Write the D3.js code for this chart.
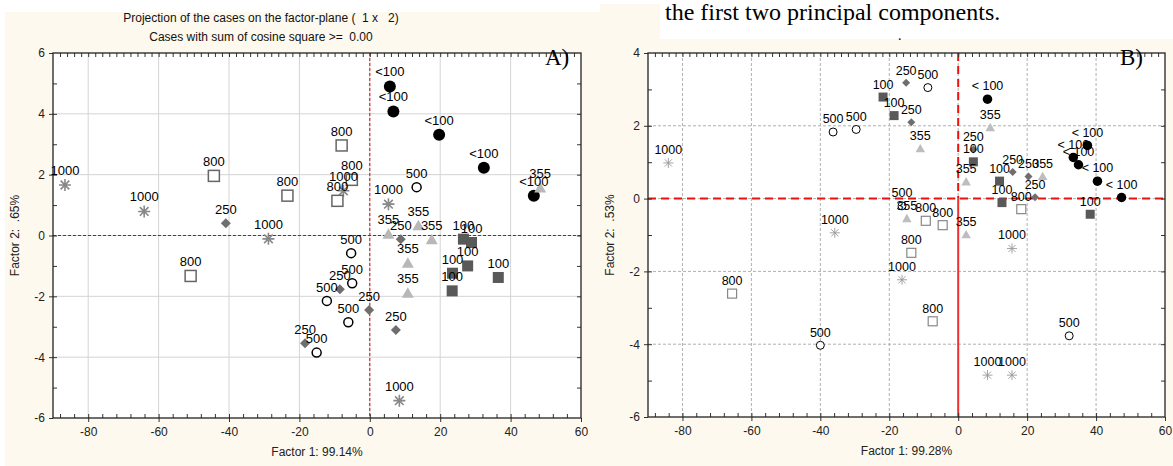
<!DOCTYPE html>
<html>
<head>
<meta charset="utf-8">
<style>
  html, body { margin: 0; background: #fff; }
  svg { display: block; font-family: Arial, "Liberation Sans", sans-serif; }
</style>
<script src="https://d3js.org/d3.v7.min.js"></script>
</head>
<body>
<svg class="chart"></svg>
<script>
const width = 1173;
const height = 466;

// panel A: factor 1 / factor 2 scores per group
const A_lt100 = [[5.7, 4.90], [6.7, 4.08], [19.7, 3.31], [32.4, 2.23], [46.6, 1.31]];
const A_100 = [[26.6, -0.12], [28.9, -0.23], [27.8, -1.00], [23.5, -1.24], [23.4, -1.82], [36.5, -1.38]];
const A_250 = [[-40.9, 0.40], [8.8, -0.12], [-8.5, -1.77], [-0.2, -2.45], [7.4, -3.11], [-18.4, -3.54]];
const A_355 = [[13.8, 0.32], [5.3, 0.04], [17.6, -0.14], [10.8, -0.91], [10.8, -1.90], [48.4, 1.56]];
const A_500 = [[13.3, 1.59], [-5.3, -0.58], [-5.0, -1.57], [-12.2, -2.15], [-6.1, -2.85], [-15.1, -3.85]];
const A_800 = [[-44.3, 1.96], [-23.4, 1.31], [-8.0, 2.96], [-5.1, 1.83], [-9.2, 1.14], [-50.9, -1.33]];
const A_1000 = [[-86.6, 1.66], [-64.1, 0.79], [-28.8, -0.11], [-7.5, 1.47], [5.3, 1.03], [8.4, -5.43]];

// panel B
const B_lt100 = [[8.5, 2.73], [37.5, 1.46], [33.4, 1.13], [34.9, 0.93], [40.4, 0.48], [47.4, 0.03]];
const B_100 = [[-21.8, 2.79], [-18.6, 2.28], [4.4, 1.01], [12.0, 0.48], [12.7, -0.11], [38.3, -0.43]];
const B_250 = [[-15.1, 3.18], [-13.6, 2.10], [4.4, 1.35], [15.8, 0.73], [20.4, 0.61], [22.3, 0.04]];
const B_355 = [[9.3, 1.95], [-11.0, 1.37], [2.3, 0.46], [24.5, 0.61], [-14.9, -0.55], [2.3, -0.99]];
const B_500 = [[-36.3, 1.83], [-29.6, 1.90], [-8.8, 3.05], [-16.3, -0.20], [32.2, -3.77], [-40.0, -4.03]];
const B_800 = [[18.3, -0.29], [-9.4, -0.61], [-4.5, -0.73], [-13.6, -1.49], [-7.4, -3.37], [-65.6, -2.61]];
const B_1000 = [[-84.1, 0.98], [-35.8, -0.94], [15.6, -1.37], [-16.3, -2.23], [8.5, -4.85], [15.6, -4.85]];

const xTicks = [-80, -60, -40, -20, 0, 20, 40, 60];
const yTicksA = [-6, -4, -2, 0, 2, 4, 6];
const yTicksB = [-6, -4, -2, 0, 2, 4];

const svg = d3.select('svg')
  .attr('width', width)
  .attr('height', height);

// backgrounds
svg.append('rect').attr('x', 5).attr('y', 12).attr('width', 595).attr('height', height - 12).attr('fill', '#fdf9ee');
svg.append('rect').attr('x', 600).attr('y', 4).attr('width', 573).attr('height', height - 4).attr('fill', '#fdf9ee');
svg.append('rect').attr('x', 660).attr('y', 0).attr('width', 513).attr('height', 39).attr('fill', '#fff');
svg.append('text').attr('x', 665).attr('y', 20)
  .style('font-family', '"Liberation Serif", "Times New Roman", serif').style('font-size', '24px')
  .text('the first two principal components.');
svg.append('text').attr('x', 898).attr('y', 40)
  .style('font-family', '"Liberation Serif", serif').style('font-size', '14px').text('.');

// marker styles, per panel
const stylesA = {
  lt100: { shape: 'circle', s: 12, fill: '#000', stroke: 'none', sw: 0 },
  g100: { shape: 'square', s: 11, fill: '#595959', stroke: 'none', sw: 0 },
  g250: { shape: 'diamond', s: 10, fill: '#6e6e6e', stroke: 'none', sw: 0 },
  g355: { shape: 'triangle', s: 12, fill: '#b8b8b8', stroke: 'none', sw: 0 },
  g500: { shape: 'circle', s: 10.5, fill: '#fff', stroke: '#000', sw: 1.5 },
  g800: { shape: 'square', s: 11, fill: '#fff', stroke: '#666', sw: 1.5 },
  g1000: { shape: 'asterisk', s: 12, fill: 'none', stroke: '#888', sw: 1.6 }
};
const stylesB = {
  lt100: { shape: 'circle', s: 9.5, fill: '#000', stroke: 'none', sw: 0 },
  g100: { shape: 'square', s: 9, fill: '#595959', stroke: 'none', sw: 0 },
  g250: { shape: 'diamond', s: 8, fill: '#6e6e6e', stroke: 'none', sw: 0 },
  g355: { shape: 'triangle', s: 9.5, fill: '#bdbdbd', stroke: 'none', sw: 0 },
  g500: { shape: 'circle', s: 9, fill: '#fff', stroke: '#000', sw: 1 },
  g800: { shape: 'square', s: 9, fill: '#fff', stroke: '#888', sw: 1.2 },
  g1000: { shape: 'asterisk', s: 10, fill: 'none', stroke: '#999', sw: 0.9 }
};

function marker(g, st, cx, cy) {
  const h = st.s / 2;
  let el;
  if (st.shape === 'circle') {
    el = g.append('circle').attr('cx', cx).attr('cy', cy).attr('r', h - st.sw / 2);
  } else if (st.shape === 'square') {
    el = g.append('rect').attr('x', cx - h).attr('y', cy - h).attr('width', st.s).attr('height', st.s);
  } else if (st.shape === 'diamond') {
    el = g.append('path').attr('d', `M${cx},${cy - h}L${cx + h},${cy}L${cx},${cy + h}L${cx - h},${cy}Z`);
  } else if (st.shape === 'triangle') {
    el = g.append('path').attr('d', `M${cx},${cy - h}L${cx + h},${cy + h * 0.75}L${cx - h},${cy + h * 0.75}Z`);
  } else {
    const d = h * 0.72;
    el = g.append('path').attr('d',
      `M${cx},${cy - h}V${cy + h}M${cx - h},${cy}H${cx + h}` +
      `M${cx - d},${cy - d}L${cx + d},${cy + d}M${cx - d},${cy + d}L${cx + d},${cy - d}`);
  }
  el.attr('fill', st.fill).attr('stroke', st.stroke).attr('stroke-width', st.sw);
}

function panel(cfg) {
  const x = d3.scaleLinear().domain([-90, 60]).range([cfg.left, cfg.right]);
  const y = d3.scaleLinear().domain(cfg.yDomain).range([cfg.bottom, cfg.top]);
  const g = svg.append('g');

  g.append('rect')
    .attr('x', cfg.left).attr('y', cfg.top)
    .attr('width', cfg.right - cfg.left).attr('height', cfg.bottom - cfg.top)
    .attr('fill', '#fff');

  // grid
  const grid = g.append('g')
    .attr('stroke', cfg.dashedGrid ? '#b0b0b0' : '#d4d4d4')
    .attr('stroke-width', 1)
    .attr('stroke-dasharray', cfg.dashedGrid ? '3,2' : null);
  grid.selectAll('.vx').data(xTicks.slice(0, -1)).join('line')
    .attr('x1', (d) => x(d)).attr('x2', (d) => x(d))
    .attr('y1', cfg.top).attr('y2', cfg.bottom);
  grid.selectAll('.hy').data(cfg.yTicks.slice(1, -1)).join('line')
    .attr('y1', (d) => y(d)).attr('y2', (d) => y(d))
    .attr('x1', cfg.left).attr('x2', cfg.right);

  // zero lines
  if (cfg.dashedGrid) {
    g.append('line').attr('x1', cfg.left).attr('x2', cfg.right).attr('y1', y(0)).attr('y2', y(0))
      .attr('stroke', '#f01010').attr('stroke-width', 2).attr('stroke-dasharray', '8,5');
    g.append('line').attr('x1', x(0)).attr('x2', x(0)).attr('y1', cfg.top).attr('y2', y(0))
      .attr('stroke', '#f01010').attr('stroke-width', 2).attr('stroke-dasharray', '8,5');
    g.append('line').attr('x1', x(0)).attr('x2', x(0)).attr('y1', y(0)).attr('y2', cfg.bottom)
      .attr('stroke', '#f03030').attr('stroke-width', 2);
  } else {
    g.append('line').attr('x1', cfg.left).attr('x2', cfg.right).attr('y1', y(0)).attr('y2', y(0))
      .attr('stroke', '#e00000').attr('stroke-width', 1).attr('stroke-dasharray', '3,2');
    g.append('line').attr('x1', x(0)).attr('x2', x(0)).attr('y1', cfg.top).attr('y2', cfg.bottom)
      .attr('stroke', '#e00000').attr('stroke-width', 1).attr('stroke-dasharray', '3,2');
  }

  // axes
  const fmt = (d) => String(d);
  const tickStyle = (sel) => {
    sel.select('.domain').remove();
    sel.selectAll('line').attr('stroke', '#333');
    sel.selectAll('text').attr('fill', '#222').style('font-size', '12px').style('font-family', 'Arial, "Liberation Sans", sans-serif');
  };
  g.append('g').attr('transform', `translate(0,${cfg.bottom})`)
    .call(d3.axisBottom(x).tickValues(xTicks).tickFormat(fmt).tickSize(4).tickPadding(5)).call(tickStyle);
  g.append('g').attr('transform', `translate(0,${cfg.bottom})`)
    .call(d3.axisBottom(x).tickValues(d3.range(-88, 60, 4)).tickSize(-4).tickFormat('')).call(tickStyle);
  g.append('g').attr('transform', `translate(0,${cfg.top})`)
    .call(d3.axisTop(x).tickValues(d3.range(-88, 60, 2)).tickSize(-4).tickFormat('')).call(tickStyle);
  g.append('g').attr('transform', `translate(${cfg.left},0)`)
    .call(d3.axisLeft(y).tickValues(cfg.yTicks).tickFormat(fmt).tickSize(4).tickPadding(4)).call(tickStyle);
  g.append('g').attr('transform', `translate(${cfg.left},0)`)
    .call(d3.axisLeft(y).tickValues(d3.range(cfg.yDomain[0] + 1, cfg.yDomain[1], 1)).tickSize(-4).tickFormat('')).call(tickStyle);
  g.append('g').attr('transform', `translate(${cfg.right},0)`)
    .call(d3.axisRight(y).tickValues(d3.range(cfg.yDomain[0] + 1, cfg.yDomain[1], 1)).tickSize(-4).tickFormat('')).call(tickStyle);

  g.append('rect')
    .attr('x', cfg.left).attr('y', cfg.top)
    .attr('width', cfg.right - cfg.left).attr('height', cfg.bottom - cfg.top)
    .attr('fill', 'none').attr('stroke', '#222').attr('stroke-width', 1.3);

  // markers, then labels on top
  const mg = g.append('g');
  cfg.series.forEach(([key, label, pts]) => {
    pts.forEach(([px, py]) => marker(mg, cfg.styles[key], x(px), y(py)));
  });
  const lg = g.append('g')
    .attr('text-anchor', 'middle')
    .style('font-size', cfg.labelSize + 'px')
    .attr('fill', '#000');
  cfg.series.forEach(([key, label, pts]) => {
    const off = cfg.styles[key].s / 2 + cfg.labelGap;
    lg.selectAll(null).data(pts).join('text')
      .attr('x', (d) => x(d[0]))
      .attr('y', (d) => y(d[1]) - off)
      .text(label);
  });

  // axis titles
  g.append('text')
    .attr('x', (cfg.left + cfg.right) / 2).attr('y', cfg.bottom + 38)
    .attr('text-anchor', 'middle').style('font-size', '12px').attr('fill', '#222')
    .text(cfg.xTitle);
  g.append('text')
    .attr('transform', `translate(${cfg.yTitleX},${(cfg.top + cfg.bottom) / 2}) rotate(-90)`)
    .attr('text-anchor', 'middle').style('font-size', '12px').attr('fill', '#222')
    .style('white-space', 'pre')
    .text(cfg.yTitle);

  // panel letter
  g.append('text')
    .attr('x', cfg.letterX).attr('y', 65)
    .style('font-family', '"Liberation Serif", "Times New Roman", serif').style('font-size', '23px')
    .text(cfg.letter);
}

panel({
  left: 53, right: 581, top: 53, bottom: 418,
  yDomain: [-6, 6], yTicks: yTicksA, dashedGrid: false,
  styles: stylesA, labelSize: 13, labelGap: 4,
  xTitle: 'Factor 1: 99.14%', yTitle: 'Factor 2:  .65%', yTitleX: 19,
  letter: 'A)', letterX: 545,
  series: [
    ['lt100', '<100', A_lt100], ['g1000', '1000', A_1000], ['g100', '100', A_100],
    ['g250', '250', A_250], ['g355', '355', A_355], ['g500', '500', A_500], ['g800', '800', A_800]
  ]
});

panel({
  left: 648, right: 1165, top: 53, bottom: 417,
  yDomain: [-6, 4], yTicks: yTicksB, dashedGrid: true,
  styles: stylesB, labelSize: 12.5, labelGap: 4,
  xTitle: 'Factor 1: 99.28%', yTitle: 'Factor 2:  .53%', yTitleX: 614,
  letter: 'B)', letterX: 1120,
  series: [
    ['lt100', '< 100', B_lt100], ['g1000', '1000', B_1000], ['g100', '100', B_100],
    ['g250', '250', B_250], ['g355', '355', B_355], ['g500', '500', B_500], ['g800', '800', B_800]
  ]
});

// panel A header
svg.append('text').attr('x', 261).attr('y', 22).attr('text-anchor', 'middle')
  .style('font-size', '12px').style('white-space', 'pre').attr('fill', '#111')
  .text('Projection of the cases on the factor-plane (  1 x   2)');
svg.append('text').attr('x', 261).attr('y', 41).attr('text-anchor', 'middle')
  .style('font-size', '12px').style('white-space', 'pre').attr('fill', '#111')
  .text('Cases with sum of cosine square >=  0.00');
</script>
</body>
</html>
